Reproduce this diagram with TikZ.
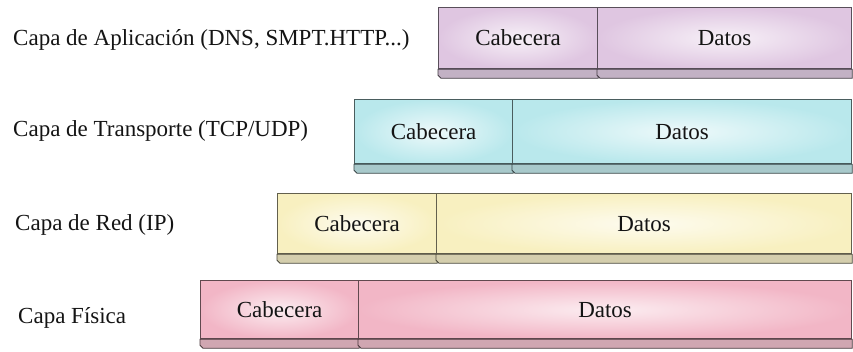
\documentclass[tikz,border=0pt]{standalone}
\usepackage{fontspec}
\newfontfamily\pdufont{Liberation Serif}
\usetikzlibrary{calc}
\begin{document}
\begin{tikzpicture}[x=1pt,y=-1pt,
  txt/.style={font=\pdufont\fontsize{23}{27}\selectfont, text=black!92},
  layerlabel/.style={txt, anchor=west, inner sep=0pt},
  cell/.style={txt, draw=#1!40!black, line width=1.2pt, anchor=north west,
    inner sep=0pt, shading=radial, inner color=#1!25, outer color=#1},
  slab/.style={fill=#1!70!gray, draw=#1!30!black, line width=0.9pt}
]
\definecolor{appc}{HTML}{DFC6E1}
\definecolor{trac}{HTML}{B9E8EC}
\definecolor{redc}{HTML}{F8F0C0}
\definecolor{fisc}{HTML}{F2B6C6}
\useasboundingbox (0,0) rectangle (853,351);

% thin bevelled base under a cell
\newcommand{\pduslab}[2]{%
  \path[slab=#2] (#1.south west) -- ++(0,6) -- ++(3,3) -- ($(#1.south east)+(0,9)$) -- (#1.south east) -- cycle;}

% labels of the layers
\node[layerlabel] (l1) at (13,40) {Capa de Aplicación (DNS, SMPT.HTTP...)};
\node[layerlabel] (l2) at (13,131) {Capa de Transporte (TCP/UDP)};
\node[layerlabel] (l3) at (15,225) {Capa de Red (IP)};
\node[layerlabel] (l4) at (18,318) {Capa Física};

% application layer
\node[cell=appc, minimum width=159pt, minimum height=61pt] (c1) at (438,7) {Cabecera};
\node[cell=appc, minimum width=254pt, minimum height=61pt] (d1) at (597,7) {Datos};
% transport layer
\node[cell=trac, minimum width=158pt, minimum height=64pt] (c2) at (354,99) {Cabecera};
\node[cell=trac, minimum width=339pt, minimum height=64pt] (d2) at (512,99) {Datos};
% network layer
\node[cell=redc, minimum width=159pt, minimum height=60pt] (c3) at (277,193) {Cabecera};
\node[cell=redc, minimum width=415pt, minimum height=60pt] (d3) at (436,193) {Datos};
% physical layer
\node[cell=fisc, minimum width=158pt, minimum height=58pt] (c4) at (200,280) {Cabecera};
\node[cell=fisc, minimum width=493pt, minimum height=58pt] (d4) at (358,280) {Datos};

\pduslab{c1}{appc}\pduslab{d1}{appc}
\pduslab{c2}{trac}\pduslab{d2}{trac}
\pduslab{c3}{redc}\pduslab{d3}{redc}
\pduslab{c4}{fisc}\pduslab{d4}{fisc}
\end{tikzpicture}
\end{document}
